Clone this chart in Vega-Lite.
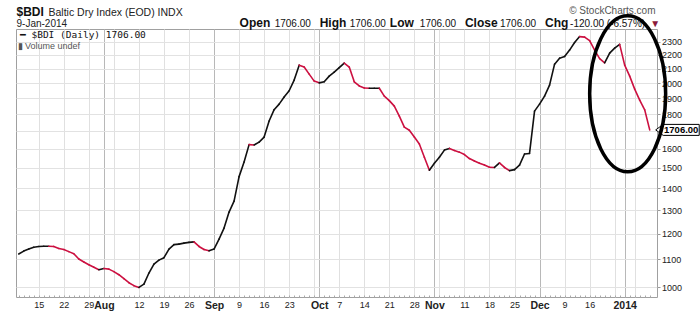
{
 "$schema": "https://vega.github.io/schema/vega-lite/v6.json",
 "width": 641,
 "height": 268,
 "autosize": {"type": "none"},
 "padding": {"left": 16, "top": 29, "right": 43, "bottom": 15},
 "background": "#ffffff",
 "config": {"font": "Liberation Sans", "view": {"stroke": "#a0a0a0", "strokeWidth": 1}},
 "datasets": {
  "bdi": [
   {"date": "2013-07-09", "close": 1120}, {"date": "2013-07-10", "close": 1131}, {"date": "2013-07-11", "close": 1139}, {"date": "2013-07-12", "close": 1146},
   {"date": "2013-07-15", "close": 1149}, {"date": "2013-07-16", "close": 1150}, {"date": "2013-07-17", "close": 1150}, {"date": "2013-07-18", "close": 1149}, {"date": "2013-07-19", "close": 1141},
   {"date": "2013-07-22", "close": 1137}, {"date": "2013-07-23", "close": 1129}, {"date": "2013-07-24", "close": 1121}, {"date": "2013-07-25", "close": 1101}, {"date": "2013-07-26", "close": 1090},
   {"date": "2013-07-29", "close": 1080}, {"date": "2013-07-30", "close": 1071}, {"date": "2013-07-31", "close": 1062}, {"date": "2013-08-01", "close": 1066}, {"date": "2013-08-02", "close": 1064},
   {"date": "2013-08-05", "close": 1055}, {"date": "2013-08-06", "close": 1044}, {"date": "2013-08-07", "close": 1030}, {"date": "2013-08-08", "close": 1016}, {"date": "2013-08-09", "close": 1006},
   {"date": "2013-08-12", "close": 1000}, {"date": "2013-08-13", "close": 1011}, {"date": "2013-08-14", "close": 1050}, {"date": "2013-08-15", "close": 1082}, {"date": "2013-08-16", "close": 1097},
   {"date": "2013-08-19", "close": 1106}, {"date": "2013-08-20", "close": 1139}, {"date": "2013-08-21", "close": 1156}, {"date": "2013-08-22", "close": 1158}, {"date": "2013-08-23", "close": 1162},
   {"date": "2013-08-26", "close": 1165}, {"date": "2013-08-27", "close": 1167}, {"date": "2013-08-28", "close": 1149}, {"date": "2013-08-29", "close": 1137}, {"date": "2013-08-30", "close": 1132},
   {"date": "2013-09-02", "close": 1139}, {"date": "2013-09-03", "close": 1178}, {"date": "2013-09-04", "close": 1223}, {"date": "2013-09-05", "close": 1291}, {"date": "2013-09-06", "close": 1340},
   {"date": "2013-09-09", "close": 1456}, {"date": "2013-09-10", "close": 1530}, {"date": "2013-09-11", "close": 1623}, {"date": "2013-09-12", "close": 1621}, {"date": "2013-09-13", "close": 1637},
   {"date": "2013-09-16", "close": 1665}, {"date": "2013-09-17", "close": 1758}, {"date": "2013-09-18", "close": 1827}, {"date": "2013-09-19", "close": 1862}, {"date": "2013-09-20", "close": 1907},
   {"date": "2013-09-23", "close": 1948}, {"date": "2013-09-24", "close": 2020}, {"date": "2013-09-25", "close": 2125}, {"date": "2013-09-26", "close": 2111}, {"date": "2013-09-27", "close": 2061},
   {"date": "2013-09-30", "close": 2013}, {"date": "2013-10-01", "close": 2001}, {"date": "2013-10-02", "close": 2009}, {"date": "2013-10-03", "close": 2047}, {"date": "2013-10-04", "close": 2075},
   {"date": "2013-10-07", "close": 2107}, {"date": "2013-10-08", "close": 2140}, {"date": "2013-10-09", "close": 2111}, {"date": "2013-10-10", "close": 2008}, {"date": "2013-10-11", "close": 1980},
   {"date": "2013-10-14", "close": 1966}, {"date": "2013-10-15", "close": 1965}, {"date": "2013-10-16", "close": 1965}, {"date": "2013-10-17", "close": 1965}, {"date": "2013-10-18", "close": 1913},
   {"date": "2013-10-21", "close": 1884}, {"date": "2013-10-22", "close": 1849}, {"date": "2013-10-23", "close": 1788}, {"date": "2013-10-24", "close": 1722}, {"date": "2013-10-25", "close": 1704},
   {"date": "2013-10-28", "close": 1665}, {"date": "2013-10-29", "close": 1626}, {"date": "2013-10-30", "close": 1555}, {"date": "2013-10-31", "close": 1488}, {"date": "2013-11-01", "close": 1524},
   {"date": "2013-11-04", "close": 1555}, {"date": "2013-11-05", "close": 1593}, {"date": "2013-11-06", "close": 1602}, {"date": "2013-11-07", "close": 1591}, {"date": "2013-11-08", "close": 1582},
   {"date": "2013-11-11", "close": 1569}, {"date": "2013-11-12", "close": 1548}, {"date": "2013-11-13", "close": 1535}, {"date": "2013-11-14", "close": 1524}, {"date": "2013-11-15", "close": 1514},
   {"date": "2013-11-18", "close": 1503}, {"date": "2013-11-19", "close": 1502}, {"date": "2013-11-20", "close": 1525}, {"date": "2013-11-21", "close": 1502}, {"date": "2013-11-22", "close": 1486},
   {"date": "2013-11-25", "close": 1491}, {"date": "2013-11-26", "close": 1514}, {"date": "2013-11-27", "close": 1572}, {"date": "2013-11-28", "close": 1575}, {"date": "2013-11-29", "close": 1818},
   {"date": "2013-12-02", "close": 1862}, {"date": "2013-12-03", "close": 1913}, {"date": "2013-12-04", "close": 1986}, {"date": "2013-12-05", "close": 2132}, {"date": "2013-12-06", "close": 2176},
   {"date": "2013-12-09", "close": 2188}, {"date": "2013-12-10", "close": 2236}, {"date": "2013-12-11", "close": 2294}, {"date": "2013-12-12", "close": 2341}, {"date": "2013-12-13", "close": 2337},
   {"date": "2013-12-16", "close": 2309}, {"date": "2013-12-17", "close": 2236}, {"date": "2013-12-18", "close": 2173}, {"date": "2013-12-19", "close": 2142}, {"date": "2013-12-20", "close": 2213},
   {"date": "2013-12-23", "close": 2251}, {"date": "2013-12-24", "close": 2280},
   {"date": "2014-01-02", "close": 2125}, {"date": "2014-01-03", "close": 2047},
   {"date": "2014-01-06", "close": 1959}, {"date": "2014-01-07", "close": 1887}, {"date": "2014-01-08", "close": 1826}, {"date": "2014-01-09", "close": 1706}
  ]
 },
 "data": {"name": "bdi"},
 "resolve": {"axis": {"x": "independent", "y": "independent"}},
 "layer": [
  {
   "transform": [
    {"window": [{"op": "lag", "field": "date", "as": "prevDate"}, {"op": "lag", "field": "close", "as": "prevClose"}], "sort": [{"field": "date"}]},
    {"filter": "datum.prevDate != null"}
   ],
   "mark": {"type": "rule", "strokeWidth": 1.6, "strokeCap": "round"},
   "encoding": {
    "x": {
     "field": "date", "type": "ordinal",
     "scale": {"type": "point", "padding": 1.1, "align": 0.273},
     "axis": {
      "orient": "bottom",
      "values": ["2013-07-15", "2013-07-22", "2013-07-29", "2013-08-01", "2013-08-05", "2013-08-12", "2013-08-19", "2013-08-26", "2013-09-02", "2013-09-09", "2013-09-16", "2013-09-23", "2013-09-30", "2013-10-01", "2013-10-07", "2013-10-14", "2013-10-21", "2013-10-28", "2013-11-01", "2013-11-04", "2013-11-11", "2013-11-18", "2013-11-25", "2013-12-02", "2013-12-09", "2013-12-16", "2013-12-23", "2014-01-02", "2014-01-06"],
      "labelExpr": "indexof(['2013-08-05','2013-09-30','2013-11-04','2013-12-23','2014-01-06'], datum.value) >= 0 ? '' : datum.value == '2014-01-02' ? '2014' : datum.value == '2013-08-01' ? 'Aug' : datum.value == '2013-09-02' ? 'Sep' : datum.value == '2013-10-01' ? 'Oct' : datum.value == '2013-11-01' ? 'Nov' : datum.value == '2013-12-02' ? 'Dec' : '' + toNumber(slice(datum.value, 8))",
      "labelFontWeight": {"condition": {"test": "indexof(['2013-08-01','2013-09-02','2013-10-01','2013-11-01','2013-12-02','2014-01-02'], datum.value) >= 0", "value": "bold"}, "value": "normal"},
      "labelFontSize": {"condition": {"test": "indexof(['2013-08-01','2013-09-02','2013-10-01','2013-11-01','2013-12-02','2014-01-02'], datum.value) >= 0", "value": 10.5}, "value": 9},
      "gridColor": {"condition": {"test": "indexof(['2013-08-01','2013-09-02','2013-10-01','2013-11-01','2013-12-02','2014-01-02'], datum.value) >= 0", "value": "#b8b8b8"}, "value": "#e0e0e0"},
      "grid": true, "gridWidth": 1,
      "labelColor": "#222222", "labelAngle": 0, "labelPadding": 3, "labelOverlap": false,
      "ticks": false, "domain": false,
      "title": "9-Jan-2014", "titleX": 0, "titleY": -271, "titleAngle": 0, "titleAlign": "left", "titleBaseline": "alphabetic",
      "titleFontSize": 10, "titleFontWeight": "normal", "titleColor": "#222222"
     }
    },
    "x2": {"field": "prevDate"},
    "y": {
     "field": "close", "type": "quantitative",
     "scale": {"type": "log", "domain": [968, 2402], "nice": false},
     "axis": {
      "orient": "right",
      "values": [1000, 1100, 1200, 1300, 1400, 1500, 1600, 1700, 1800, 1900, 2000, 2100, 2200, 2300],
      "format": "d",
      "labelExpr": "datum.value == 1700 ? '' : datum.label",
      "labelFontSize": 9, "labelColor": "#222222", "labelPadding": 1.5,
      "tickSize": 3, "tickColor": "#999999", "domain": false,
      "grid": true, "gridColor": "#e2e2e2",
      "title": "$BDI", "titleX": -641, "titleY": -14, "titleAngle": 0, "titleAlign": "left", "titleBaseline": "alphabetic",
      "titleFontSize": 12, "titleFontWeight": "bold", "titleColor": "#111111"
     }
    },
    "y2": {"field": "prevClose"},
    "color": {"condition": {"test": "datum.close < datum.prevClose", "value": "#cc1040"}, "value": "#111111"}
   }
  },
  {
   "transform": [{"filter": "datum.date == '2014-01-09'"}],
   "mark": {"type": "point", "shape": "M0.12,0L0.27,-0.11L0.99,-0.11L0.99,0.11L0.27,0.11Z", "size": 10000, "filled": true, "fill": "#ffffff", "stroke": "#000000", "strokeWidth": 1, "opacity": 1},
   "encoding": {
    "x": {
     "field": "date", "type": "ordinal",
     "axis": {
      "orient": "bottom", "labels": false, "grid": false, "domain": false, "ticks": true, "tickSize": -2, "tickColor": "#aaaaaa",
      "title": "© StockCharts.com", "titleX": 639, "titleY": -284, "titleAngle": 0, "titleAlign": "right", "titleBaseline": "alphabetic",
      "titleFontSize": 10, "titleFontWeight": "normal", "titleColor": "#555555"
     }
    },
    "y": {
     "field": "close", "type": "quantitative",
     "axis": {
      "orient": "left", "labels": false, "ticks": false, "domain": false, "grid": false,
      "title": "Baltic Dry Index (EOD)  INDX", "titleX": 32, "titleY": -14, "titleAngle": 0, "titleAlign": "left", "titleBaseline": "alphabetic",
      "titleFontSize": 10.5, "titleFontWeight": "normal", "titleColor": "#222222"
     }
    }
   }
  },
  {
   "transform": [{"filter": "datum.date == '2014-01-09'"}],
   "mark": {"type": "text", "dx": 31.5, "align": "center", "baseline": "middle", "fontWeight": "bold", "fontSize": 9.5, "color": "#000000"},
   "encoding": {
    "x": {
     "field": "date", "type": "ordinal",
     "axis": {
      "orient": "top", "labels": false, "grid": false, "domain": false, "ticks": false,
      "title": "▮ Volume undef", "titleX": 1, "titleY": 19, "titleAngle": 0, "titleAlign": "left", "titleBaseline": "alphabetic",
      "titleFontSize": 9, "titleFontWeight": "normal", "titleColor": "#555555"
     }
    },
    "y": {
     "field": "close", "type": "quantitative",
     "axis": {
      "orient": "left", "labels": false, "ticks": false, "domain": false, "grid": false,
      "title": "━ $BDI (Daily) 1706.00", "titleX": 3.5, "titleY": 8.5, "titleAngle": 0, "titleAlign": "left", "titleBaseline": "alphabetic",
      "titleFont": "DejaVu Sans Mono", "titleFontSize": 9.5, "titleFontWeight": "normal", "titleColor": "#111111"
     }
    },
    "text": {"field": "close", "type": "quantitative", "format": ".2f"}
   }
  },
  {
   "transform": [{"filter": "datum.date == '2014-01-03'"}],
   "mark": {"type": "point", "shape": "M-0.026,-0.773C0.243,-0.773,0.461,-0.325,0.461,0.227C0.461,0.779,0.243,1.227,-0.026,1.227C-0.295,1.227,-0.513,0.779,-0.513,0.227C-0.513,-0.325,-0.295,-0.773,-0.026,-0.773Z", "size": 24336, "filled": false, "color": "#000000", "stroke": "#000000", "strokeWidth": 3.5, "opacity": 1},
   "encoding": {
    "x": {
     "field": "date", "type": "ordinal",
     "axis": {
      "orient": "top",
      "values": ["2013-09-09", "2013-09-18", "2013-10-01", "2013-10-09", "2013-10-21", "2013-10-29", "2013-11-11", "2013-11-20", "2013-12-03", "2013-12-10", "2014-01-09"],
      "labelExpr": "datum.value == '2013-09-09' ? 'Open' : datum.value == '2013-10-01' ? 'High' : datum.value == '2013-10-21' ? 'Low' : datum.value == '2013-11-11' ? 'Close' : datum.value == '2013-12-03' ? 'Chg' : datum.value == '2013-12-10' ? '-120.00 (-6.57%)' : datum.value == '2014-01-09' ? '▼' : '1706.00'",
      "labelFontWeight": {"condition": {"test": "indexof(['2013-09-09','2013-10-01','2013-10-21','2013-11-11','2013-12-03'], datum.value) >= 0", "value": "bold"}, "value": "normal"},
      "labelFontSize": {"condition": {"test": "indexof(['2013-09-09','2013-10-01','2013-10-21','2013-11-11','2013-12-03'], datum.value) >= 0", "value": 12}, "value": 10},
      "labelColor": {"condition": {"test": "datum.value == '2014-01-09'", "value": "#8b1a3a"}, "value": "#111111"},
      "labelAlign": "left", "labelBaseline": "alphabetic", "labelPadding": 3, "labelAngle": 0, "labelOverlap": false,
      "ticks": false, "tickSize": 0, "domain": false, "grid": false, "title": null
     }
    },
    "y": {"field": "close", "type": "quantitative", "axis": null}
   }
  }
 ]
}
